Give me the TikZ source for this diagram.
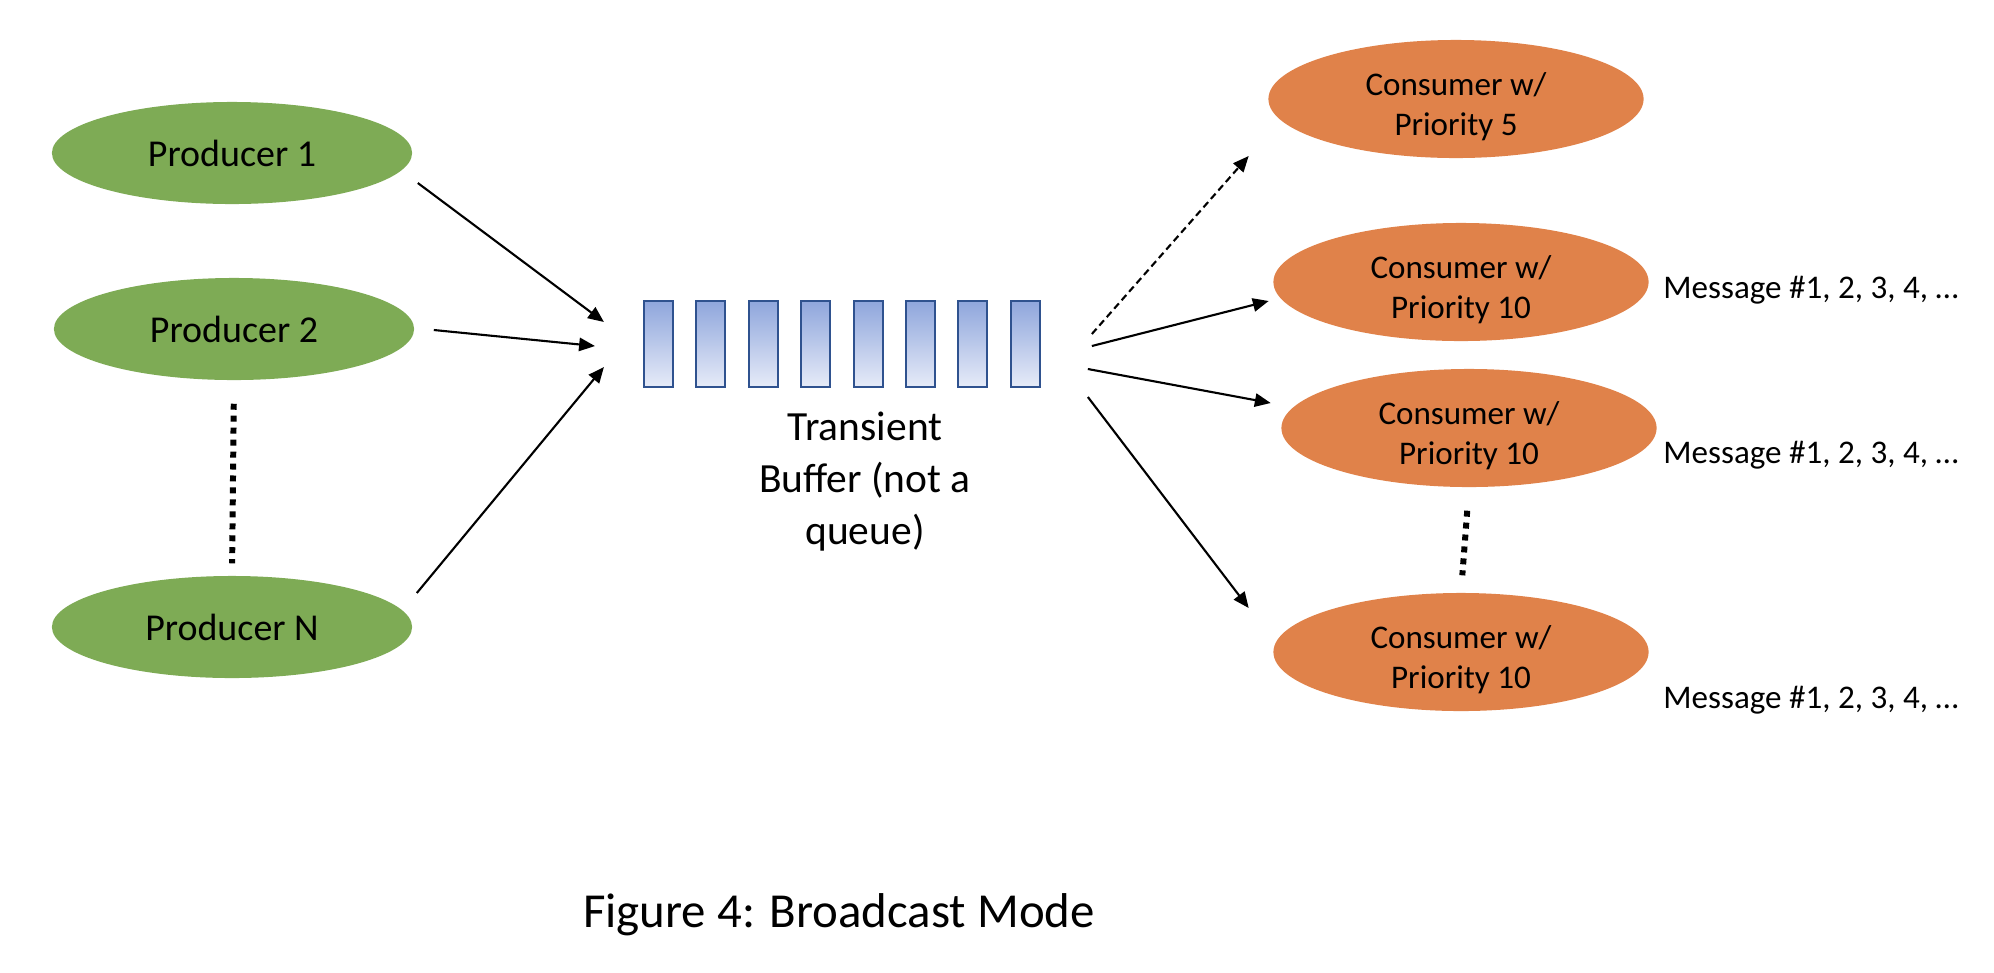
\documentclass[tikz,border=0pt]{standalone}
\usepackage{fontspec}
\setmainfont{Carlito}
\usetikzlibrary{calc,shapes.geometric,arrows.meta}
\definecolor{prodgreen}{HTML}{7EAB55}
\definecolor{consorange}{HTML}{E0824A}
\definecolor{bufblue}{HTML}{2F528F}
\definecolor{buftop}{HTML}{8FA6DC}
\definecolor{bufbot}{HTML}{E6EBF8}
\begin{document}
\begin{tikzpicture}[x=0.01cm,y=-0.01cm,
    prod/.style={ellipse,fill=prodgreen,inner sep=0pt,minimum width=3.6cm,minimum height=1.02cm,font=\fontsize{10.8}{13}\selectfont},
    cons/.style={ellipse,fill=consorange,inner sep=0pt,minimum width=3.75cm,minimum height=1.18cm},
    constext/.style={align=center,yshift=-0.08cm,font=\fontsize{9.4}{11.4}\selectfont},
    slot/.style={draw=bufblue,line width=0.6pt,top color=buftop,bottom color=bufbot,minimum width=0.29cm,minimum height=0.86cm,inner sep=0pt},
    arr/.style={line width=0.6pt,-{Triangle[length=4.5pt,width=3.8pt]}},
    dots/.style={line width=1.7pt,dash pattern=on 1.7pt off 1.7pt}]
    \useasboundingbox (0,0) rectangle (1994,972);
    \node[prod] (p1) at (232,153) {Producer 1};
    \node[prod] (p2) at (234,329) {Producer 2};
    \node[prod] (pN) at (232,627) {Producer N};
    \draw[dots,shorten <=0.23cm,shorten >=0.12cm] (p2.south) -- (pN.north);
    \foreach \i in {1,...,8}
      \node[slot] (b\i) at (658.5+52.4*\i-52.4,344) {};
    \node[align=center,font=\fontsize{11.8}{14.8}\selectfont] (buf) at (865,482) {Transient\\Buffer (not a\\queue)};
    \node[cons,label={[constext]center:Consumer w/\\Priority 5}] (c5) at (1456,99) {};
    \node[cons,label={[constext]center:Consumer w/\\Priority 10}] (c10a) at (1461,282) {};
    \node[cons,label={[constext]center:Consumer w/\\Priority 10}] (c10b) at (1469,428) {};
    \node[cons,label={[constext]center:Consumer w/\\Priority 10}] (c10c) at (1461,652) {};
    \draw[dots,shorten <=0.23cm,shorten >=0.17cm] (c10b.south) -- (c10c.north);
    \node[anchor=west,font=\fontsize{9.4}{11.4}\selectfont] (m1) at (1651,290) {Message \#1, 2, 3, 4, \dots};
    \node[anchor=west,font=\fontsize{9.4}{11.4}\selectfont] (m2) at (1651,455) {Message \#1, 2, 3, 4, \dots};
    \node[anchor=west,font=\fontsize{9.4}{11.4}\selectfont] (m3) at (1651,700) {Message \#1, 2, 3, 4, \dots};
    \draw[arr] ($(p1.east)+(5,30)$) -- ($(b1.west)+(-39,-22)$);
    \draw[arr] ($(p2.east)+(19,1)$) -- ($(b1.west)+(-48,2)$);
    \draw[arr] ($(pN.east)+(4,-34)$) -- ($(b1.west)+(-39,23)$);
    \draw[arr,dash pattern=on 2pt off 1.2pt] ($(b8.east)+(51,-10)$) -- ($(c5.west)+(-19,57)$);
    \draw[arr] ($(b8.east)+(51,2)$) -- ($(c10a.west)+(-4,19)$);
    \draw[arr] ($(b8.east)+(47,25)$) -- ($(c10b.west)+(-10,-25)$);
    \draw[arr] ($(b8.east)+(47,53)$) -- ($(c10c.west)+(-24,-44)$);
    \node[font=\fontsize{13.9}{16}\selectfont] (cap) at (839,915) {Figure 4: Broadcast Mode};
\end{tikzpicture}
\end{document}
